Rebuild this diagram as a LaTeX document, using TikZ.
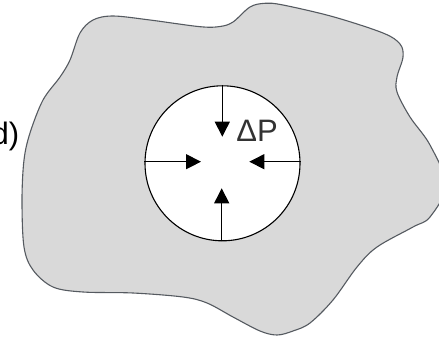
\documentclass[tikz,border=0pt]{standalone}
\usepackage{fontspec}
\setmainfont{Liberation Sans}
\usetikzlibrary{arrows.meta}
\definecolor{blobfill}{HTML}{D9D9D9}
\definecolor{blobline}{HTML}{555A60}
\definecolor{labelgray}{HTML}{333333}
\tikzset{
  blob/.style={fill=blobfill, draw=blobline, line width=1.1pt},
  hole/.style={circle, draw=black, fill=white, line width=1.1pt, minimum size=155pt, inner sep=0pt},
  push/.style={draw=black, line width=1.2pt, -{Triangle[length=15pt,width=15pt]}},
  label/.style={font=\fontsize{31}{36}\selectfont, inner sep=0pt}
}
\begin{document}
\begin{tikzpicture}[x=1pt,y=-1pt]
  \useasboundingbox (0,0) rectangle (439,337);
  \clip (0,0) rectangle (439,337);
  % surrounding material
  \draw[blob] plot[smooth cycle, tension=0.55] coordinates {
    (80,33) (93,20) (113,16) (150,20) (200,26.7) (220,26.5) (233,22) (250,7)
    (265,3.3) (283,5) (333,16.7) (383,33) (400,44) (403,57) (397,77) (397,92)
    (410,117) (430,145) (446,185) (430,217) (413,227) (377,247) (357,267)
    (333,300) (310,323) (293,331) (277,335) (260,331) (233,317) (207,303)
    (183,297) (133,293) (83,292) (53,287) (33,270) (24,247) (22,200) (24,160)
    (30,133) (43,100) (60,77) (70,60)};
  % cavity
  \node[hole] (c) at (222.5,163.3) {};
  \coordinate (ttip) at (222.3,136.7);
  \coordinate (btip) at (221.7,188.3);
  \coordinate (ltip) at (201,161.7);
  \coordinate (rtip) at (249.3,161.7);
  \draw[push] (c.north -| ttip) -- (ttip);
  \draw[push] (c.south -| btip) -- (btip);
  \draw[push] (c.west |- ltip) -- (ltip);
  \draw[push] (c.east |- rtip) -- (rtip);
  % labels
  \node[label, text=labelgray, anchor=base] (dp) at (257,141) {ΔP};
  \node[label, text=black, anchor=base east] (tag) at (19.5,144) {d)};
\end{tikzpicture}
\end{document}
